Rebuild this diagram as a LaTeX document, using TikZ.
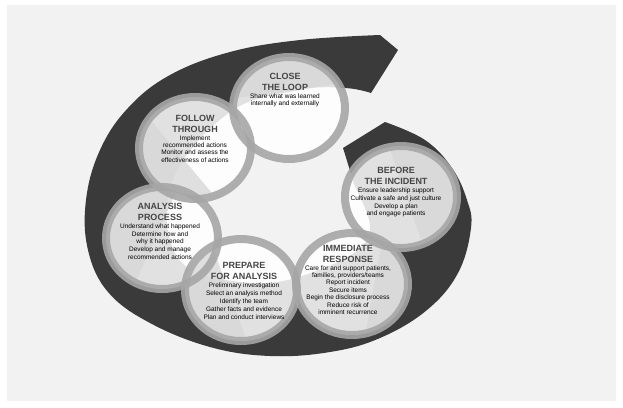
\documentclass[tikz,border=0pt]{standalone}
\usepackage{fontspec}
\setmainfont{Liberation Sans}
\usepackage{tikz}
\usetikzlibrary{positioning, calc, shapes.geometric}
\definecolor{bggray}{HTML}{F2F2F2}
\definecolor{bandgray}{HTML}{3A3A3A}
\definecolor{ringgray}{HTML}{A6A6A6}
\definecolor{wedgegray}{HTML}{D8D8D8}
\definecolor{titlegray}{HTML}{454545}
\tikzset{%
	stage/.style={
		ellipse,
		fill=white,
		fill opacity=0.85,
		minimum width=112pt,
		minimum height=102pt,
		inner sep=0pt
	},
	ring/.style={
		draw=ringgray,
		line width=8pt,
		draw opacity=0.9
	},
	stagetitle/.style={
		align=center,
		font=\fontsize{9}{10.5}\selectfont\bfseries,
		text=titlegray,
		inner sep=0pt
	},
	stagebody/.style={
		align=center,
		font=\fontsize{6.5}{7.4}\selectfont,
		text=black,
		inner sep=0pt
	},
	band/.style={fill=bandgray},
}

\begin{document}
\begin{tikzpicture}[x=1pt, y=-1pt]
			% Background
			\useasboundingbox[fill=white] (0,0) rectangle (623,407);
			\fill[bggray] (7,5) rectangle (616,401);
			
			% Dark spiral arrow
			\fill[band] (380,35) -- plot[smooth, tension=0.65] coordinates {(380,35) (300,40) (230,52) (170,75) (128,108) (100,150) (86,200) (88,250) (108,292) (150,323) (210,347) (270,356) (330,352) (380,338) (427,310) (458,273) (471,228) (467,200) (452,168) (425,140) (385,122)}
				-- (343,148) -- plot[smooth, tension=0.65] coordinates {(343,148) (352,178) (368,238) (305,275) (240,282) (178,258) (172,182) (230,112) (300,90) (345,88) (371,93)}
				-- (398,50) -- cycle;
			
			% Stage circles
			\node[stage] (before) at (401,197) {};
			\node[stage] (immediate) at (352,284) {};
			\node[stage] (prepare) at (241,290) {};
			\node[stage] (analysis) at (162,238) {};
			\node[stage] (follow) at (195,148) {};
			\node[stage] (close) at (289,108) {};
			
			% Light gray shading inside the circles
			\foreach \n/\a/\d in {close/262/17, follow/140/16, before/341/5, analysis/204/6, prepare/160/12, immediate/10/22}{
				\begin{scope}
					\clip (\n.center) ellipse (52pt and 47pt);
					\fill[wedgegray, opacity=0.8] ($(\n.center)+(\a:\d)+(\a+90:80)$) -- ++(\a:80) -- ++(\a-90:160) -- ++(\a+180:80) -- cycle;
				\end{scope}
			}
			
			% Rings
			\foreach \n in {before, immediate, prepare, analysis, follow, close}
				\draw[ring] (\n.center) ellipse (56pt and 51pt);
			
			% Texts
			\node[stagetitle] (closetitle) at ([shift={(-4,-26)}]close.center) {CLOSE\\THE LOOP};
			\node[stagebody, below=2.5pt of closetitle] (closebody) {Share what was learned\\internally and externally};
			
			\node[stagetitle] (followtitle) at ([shift={(0,-24)}]follow.center) {FOLLOW\\THROUGH};
			\node[stagebody, below=2.5pt of followtitle] (followbody) {Implement\\recommended actions\\Monitor and assess the\\effectiveness of actions};
			
			\node[stagetitle] (beforetitle) at ([shift={(-5,-21)}]before.center) {BEFORE\\THE INCIDENT};
			\node[stagebody, below=2.5pt of beforetitle] (beforebody) {Ensure leadership support\\[0.8pt]Cultivate a safe and just culture\\[0.8pt]Develop a plan\\and engage patients};
			
			\node[stagetitle] (analysistitle) at ([shift={(-2,-26)}]analysis.center) {ANALYSIS\\PROCESS};
			\node[stagebody, below=2.5pt of analysistitle] (analysisbody) {Understand what happened\\[0.8pt]Determine how and\\why it happened\\[0.8pt]Develop and manage\\recommended actions};
			
			\node[stagetitle] (preparetitle) at ([shift={(3,-19)}]prepare.center) {PREPARE\\FOR ANALYSIS};
			\node[stagebody, below=2.5pt of preparetitle] (preparebody) {Preliminary investigation\\[0.8pt]Select an analysis method\\[0.8pt]Identify the team\\[0.8pt]Gather facts and evidence\\[0.8pt]Plan and conduct interviews};
			
			\node[stagetitle] (immediatetitle) at ([shift={(-4,-30)}]immediate.center) {IMMEDIATE\\RESPONSE};
			\node[stagebody, below=2.5pt of immediatetitle] (immediatebody) {Care for and support patients,\\families, providers/teams\\Report incident\\Secure items\\Begin the disclosure process\\Reduce risk of\\imminent recurrence};
		\end{tikzpicture}
\end{document}
